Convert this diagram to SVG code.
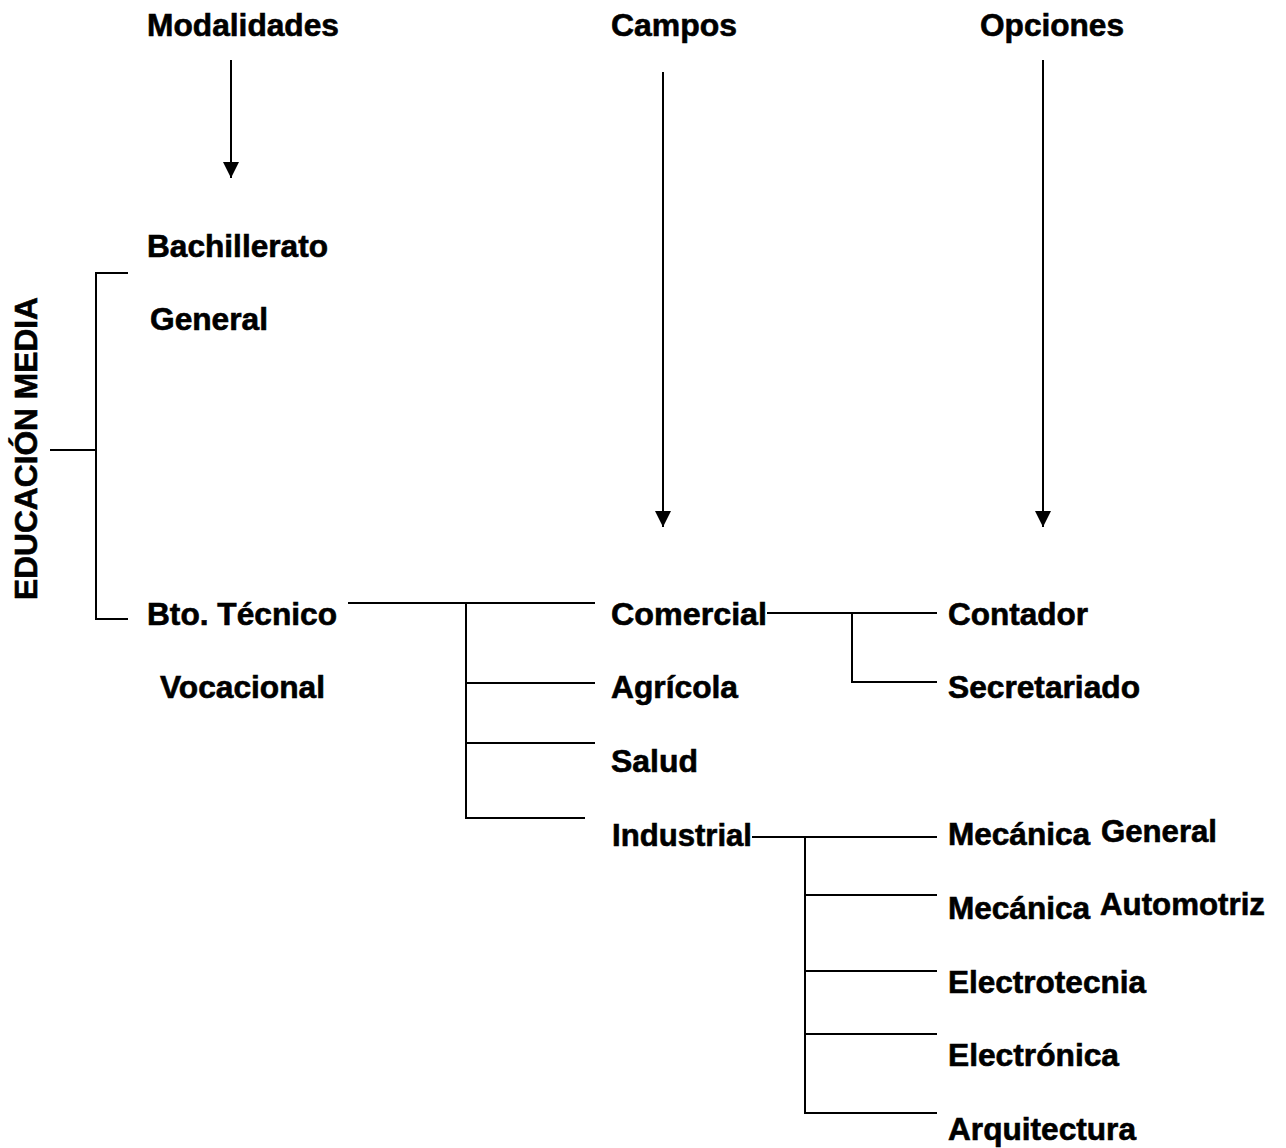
<svg xmlns="http://www.w3.org/2000/svg" width="1286" height="1148" viewBox="0 0 1286 1148">
<style>
text{font-family:"Liberation Sans",Arial,sans-serif;font-weight:bold;font-size:31px;fill:#000;stroke:#000;stroke-width:0.6}
.alt{font-size:31px}
.ln{stroke:#000;stroke-width:2;fill:none}
</style>
<defs>
<marker id="ah" viewBox="0 0 16 16" refX="16" refY="8" markerWidth="16" markerHeight="16" markerUnits="userSpaceOnUse" orient="auto">
<path d="M0,0 L16,8 L0,16 z" fill="#000"/>
</marker>
</defs>
<rect width="1286" height="1148" fill="#fff"/>
<g id="connectors">
<line class="ln" x1="231" y1="60" x2="231" y2="178" marker-end="url(#ah)"/>
<line class="ln" x1="663" y1="72" x2="663" y2="527" marker-end="url(#ah)"/>
<line class="ln" x1="1043" y1="60" x2="1043" y2="527" marker-end="url(#ah)"/>
<path class="ln" d="M128,273 H96 V619 H128"/>
<path class="ln" d="M50,450 H96"/>
<path class="ln" d="M348,603 H595"/>
<path class="ln" d="M466,603 V818 H585"/>
<path class="ln" d="M466,683 H595"/>
<path class="ln" d="M466,743 H595"/>
<path class="ln" d="M767,613 H937"/>
<path class="ln" d="M852,613 V682 H937"/>
<path class="ln" d="M752,837 H937"/>
<path class="ln" d="M805,837 V1113 H937"/>
<path class="ln" d="M805,895 H937"/>
<path class="ln" d="M805,971 H937"/>
<path class="ln" d="M805,1034 H937"/>
</g>
<g id="h-modalidades"><text x="147" y="36" textLength="192" lengthAdjust="spacingAndGlyphs">Modalidades</text></g>
<g id="h-campos"><text x="611" y="36" textLength="126" lengthAdjust="spacingAndGlyphs">Campos</text></g>
<g id="h-opciones"><text x="980" y="36" textLength="144" lengthAdjust="spacingAndGlyphs">Opciones</text></g>
<g id="educacion-media"><text transform="translate(37,600) rotate(-90)" x="0" y="0" textLength="303" lengthAdjust="spacingAndGlyphs">EDUCACIÓN MEDIA</text></g>
<g id="bachillerato-general">
<text x="147" y="257" textLength="181" lengthAdjust="spacingAndGlyphs">Bachillerato</text>
<text x="150" y="330" textLength="118" lengthAdjust="spacingAndGlyphs">General</text>
</g>
<g id="bto-tecnico-vocacional">
<text x="147" y="625" textLength="190" lengthAdjust="spacingAndGlyphs">Bto. Técnico</text>
<text x="160" y="698" textLength="165" lengthAdjust="spacingAndGlyphs">Vocacional</text>
</g>
<g id="comercial"><text x="611" y="625" textLength="156" lengthAdjust="spacingAndGlyphs">Comercial</text></g>
<g id="agricola"><text x="611" y="698" textLength="127" lengthAdjust="spacingAndGlyphs">Agrícola</text></g>
<g id="salud"><text x="611" y="772" textLength="87" lengthAdjust="spacingAndGlyphs">Salud</text></g>
<g id="industrial"><text x="612" y="846" textLength="140" lengthAdjust="spacingAndGlyphs">Industrial</text></g>
<g id="contador"><text x="948" y="625" textLength="140" lengthAdjust="spacingAndGlyphs">Contador</text></g>
<g id="secretariado"><text x="948" y="698" textLength="192" lengthAdjust="spacingAndGlyphs">Secretariado</text></g>
<g id="mecanica-general">
<text x="948" y="845" textLength="142" lengthAdjust="spacingAndGlyphs">Mecánica</text>
<text class="alt" x="1101" y="842" textLength="116" lengthAdjust="spacingAndGlyphs">General</text>
</g>
<g id="mecanica-automotriz">
<text x="948" y="919" textLength="142" lengthAdjust="spacingAndGlyphs">Mecánica</text>
<text class="alt" x="1100" y="915" textLength="165" lengthAdjust="spacingAndGlyphs">Automotriz</text>
</g>
<g id="electrotecnia"><text x="948" y="993" textLength="198" lengthAdjust="spacingAndGlyphs">Electrotecnia</text></g>
<g id="electronica"><text x="948" y="1066" textLength="171" lengthAdjust="spacingAndGlyphs">Electrónica</text></g>
<g id="arquitectura"><text x="948" y="1140" textLength="188" lengthAdjust="spacingAndGlyphs">Arquitectura</text></g>
</svg>
